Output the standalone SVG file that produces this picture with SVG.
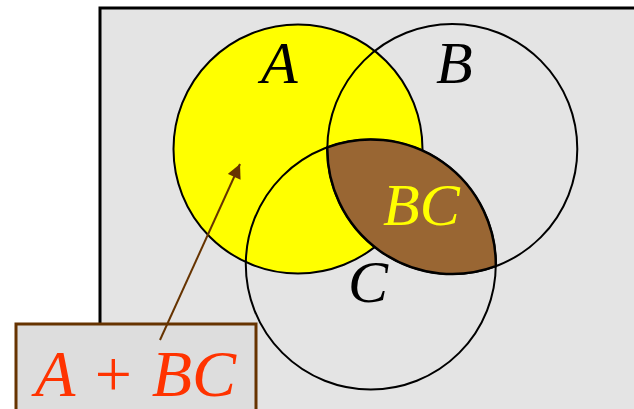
<svg xmlns="http://www.w3.org/2000/svg" width="634" height="409" viewBox="0 0 634 409">
<defs>
<style>
.circ{fill:none;stroke:#000;stroke-width:2}
.lbl{font-family:"Liberation Serif","Times New Roman",serif;font-style:italic;font-size:60px}
</style>
<marker id="ah" viewBox="0 0 10 10" refX="10" refY="5" markerWidth="16" markerHeight="14" markerUnits="userSpaceOnUse" orient="auto">
<path d="M0,0 L10,5 L0,10 Z" fill="#663300"/>
</marker>
</defs>
<g id="universe">
<rect x="100" y="8" width="560" height="420" fill="#e4e4e4" stroke="#000" stroke-width="3"/>
</g>
<g id="setA">
<circle cx="298" cy="149" r="124.5" fill="#ffff00" stroke="#000" stroke-width="2"/>
</g>
<g id="setB">
<circle class="circ" cx="452.3" cy="149" r="125"/>
</g>
<g id="setC">
<circle class="circ" cx="370.8" cy="264.5" r="125"/>
</g>
<g id="setBC">
<path d="M327.3,147.3 A125,125 0 0 1 495.8,266.2 A125,125 0 0 1 327.3,147.3 Z" fill="#996633" stroke="#000" stroke-width="2.5"/>
</g>
<g id="labels">
<text class="lbl" x="261" y="83" fill="#000">A</text>
<text class="lbl" x="436" y="83" fill="#000">B</text>
<text class="lbl" x="383" y="225" fill="#ffff00">BC</text>
<text class="lbl" x="348" y="302" fill="#000">C</text>
</g>
<g id="callout">
<rect x="16" y="324" width="240" height="100" fill="#dddddd" stroke="#663300" stroke-width="3"/>
<text x="35" y="396" font-family="Liberation Serif,'Times New Roman',serif" font-style="italic" font-size="66" fill="#ff3300">A + BC</text>
</g>
<g id="connectors">
<line x1="160" y1="340" x2="240" y2="164" stroke="#663300" stroke-width="2" marker-end="url(#ah)"/>
</g>
</svg>
